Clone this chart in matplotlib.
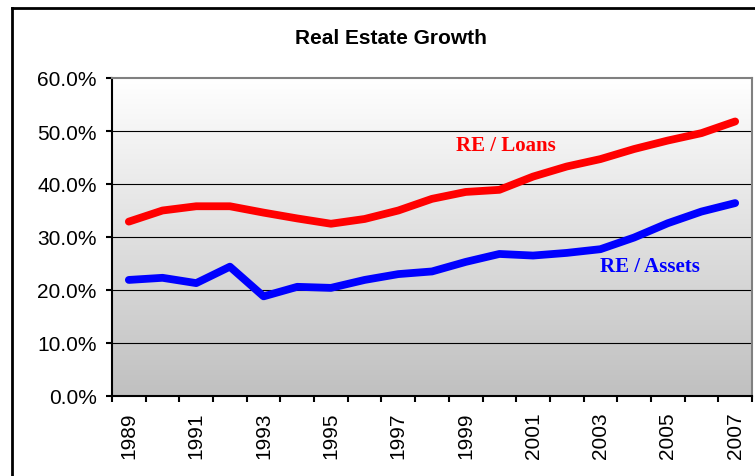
import numpy as np
import matplotlib
matplotlib.use("Agg")
import matplotlib.pyplot as plt
from matplotlib.lines import Line2D
from matplotlib.ticker import FuncFormatter

years = list(range(1989, 2008))
re_loans = [32.9, 35.0, 35.8, 35.8, 34.6, 33.5, 32.5, 33.4, 35.0, 37.2,
            38.5, 38.9, 41.4, 43.3, 44.7, 46.6, 48.2, 49.6, 51.8]
re_assets = [21.9, 22.3, 21.3, 24.4, 18.8, 20.6, 20.4, 21.9, 23.0, 23.5,
             25.3, 26.8, 26.5, 27.0, 27.7, 29.9, 32.6, 34.8, 36.4]
y_ticks = [0, 10, 20, 30, 40, 50, 60]

plt.rcParams["font.family"] = ["Liberation Sans", "DejaVu Sans"]

W, H = 755, 477
fig = plt.figure(figsize=(W / 100, H / 100), dpi=100, facecolor="white")
ax = fig.add_axes([112 / W, 1 - 397 / H, 640 / W, 318 / H])

x = np.arange(len(years))
ax.set_xlim(-0.5, len(years) - 0.5)
ax.set_ylim(0, 60)

# gradient plot background, white on top to grey at the bottom
grad = np.linspace(0, 1, 256).reshape(-1, 1)
ax.imshow(grad, extent=(-0.5, len(years) - 0.5, 0, 60), aspect="auto",
          cmap=matplotlib.colors.LinearSegmentedColormap.from_list("g", ["#c0c0c0", "#ffffff"]),
          origin="lower", zorder=0)

for v in y_ticks[1:-1]:
    ax.axhline(v, color="black", lw=0.8, zorder=1)

ax.plot(x, re_loans, color="#ff0000", lw=5.6, solid_capstyle="round", solid_joinstyle="round", zorder=3)
ax.plot(x, re_assets, color="#0000ff", lw=5.6, solid_capstyle="round", solid_joinstyle="round", zorder=3)

ax.text(11.18, 47.3, "RE / Loans", color="#ff0000", fontsize=15, fontweight="bold",
        family="Liberation Serif", ha="center", va="center", zorder=4)
ax.text(15.48, 24.5, "RE / Assets", color="#0000ff", fontsize=15, fontweight="bold",
        family="Liberation Serif", ha="center", va="center", zorder=4)

ax.set_yticks(y_ticks)
ax.yaxis.set_major_formatter(FuncFormatter(lambda v, p: f"{v:.1f}%"))
ax.tick_params(axis="y", length=4.5, width=1.5, pad=6.5, labelsize=15, direction="out")

ax.set_xticks(x[::2])
ax.set_xticklabels([str(y) for y in years[::2]], rotation=90, fontsize=15)
ax.set_xticks(np.arange(-0.5, len(years), 1.0), minor=True)
ax.tick_params(axis="x", which="major", length=0, pad=11)
ax.tick_params(axis="x", which="minor", length=4.5, width=1.5, direction="out")

for side in ["left", "bottom"]:
    ax.spines[side].set_color("black")
    ax.spines[side].set_linewidth(1.5)
for side in ["top", "right"]:
    ax.spines[side].set_color("#808080")
    ax.spines[side].set_linewidth(1.5)

fig.text(391 / W, 1 - 39 / H, "Real Estate Growth", fontsize=15, fontweight="bold",
         ha="center", va="center")

# outer chart border (continues past the right and bottom edges)
fig.add_artist(Line2D([12 / W, 12 / W], [0, 1 - 9 / H], color="black", lw=2, transform=fig.transFigure))
fig.add_artist(Line2D([12 / W, 1], [1 - 9 / H, 1 - 9 / H], color="black", lw=2, transform=fig.transFigure))

fig.savefig("out.png", dpi=100, facecolor="white")
